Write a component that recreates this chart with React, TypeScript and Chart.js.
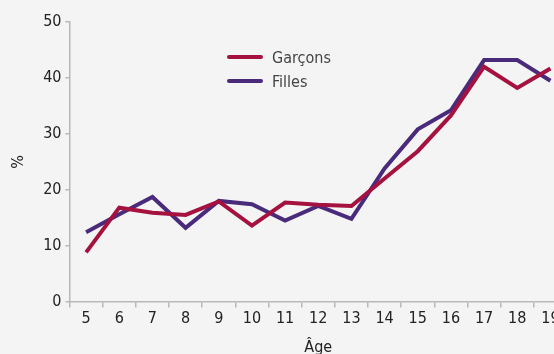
import React, { useEffect, useRef } from "react";
import { Chart, registerables } from "chart.js";

Chart.register(...registerables);

const ages = ["5", "6", "7", "8", "9", "10", "11", "12", "13", "14", "15", "16", "17", "18", "19"];
const garcons = [8.8, 16.8, 15.9, 15.5, 17.9, 13.6, 17.7, 17.3, 17.1, 22.0, 26.9, 33.3, 42.0, 38.2, 41.7];
const filles = [12.4, 15.6, 18.7, 13.2, 18.0, 17.4, 14.5, 17.1, 14.8, 23.8, 30.8, 34.2, 43.2, 43.2, 39.5];
const yTicks = [0, 10, 20, 30, 40, 50];

const RED = "#a5123f";
const PURPLE = "#4a2a7a";
const FONT = "'DejaVu Sans Condensed', 'Liberation Sans Narrow', sans-serif";

export default function App() {
  const ref = useRef<HTMLCanvasElement>(null);
  useEffect(() => {
    if (!ref.current) return;
    const chart = new Chart(ref.current, {
      type: "line",
      data: {
        labels: ages,
        datasets: [
          { label: "Garçons", data: garcons, borderColor: RED, backgroundColor: RED, borderWidth: 4, pointRadius: 0, tension: 0 },
          { label: "Filles", data: filles, borderColor: PURPLE, backgroundColor: PURPLE, borderWidth: 4, pointRadius: 0, tension: 0 },
        ],
      },
      options: {
        animation: false,
        responsive: false,
        maintainAspectRatio: false,
        layout: { padding: { top: 22, right: 15, bottom: -3, left: 9 } },
        plugins: { legend: { display: false }, tooltip: { enabled: false } },
        scales: {
          x: {
            offset: true,
            grid: { offset: true, drawOnChartArea: false, drawTicks: true, tickLength: 6, color: "#b8b8b8", lineWidth: 1.5 },
            border: { color: "#b8b8b8", width: 1.5 },
            ticks: { color: "#222", font: { family: FONT, size: 16 }, padding: 2, autoSkip: false, maxRotation: 0 },
            title: { display: true, text: "Âge", color: "#222", font: { family: FONT, size: 16 }, padding: { top: 7, bottom: 0 } },
          },
          y: {
            min: 0,
            max: 50,
            afterBuildTicks: (axis: any) => {
              axis.ticks = yTicks.map((v) => ({ value: v }));
            },
            grid: { drawOnChartArea: false, drawTicks: true, tickLength: 4, color: "#b8b8b8", lineWidth: 1.5 },
            border: { color: "#b8b8b8", width: 1.5 },
            ticks: { color: "#222", font: { family: FONT, size: 16 }, padding: 4 },
            title: { display: true, text: "%", color: "#222", font: { family: FONT, size: 16 }, padding: { top: 0, bottom: 11 } },
          },
        },
      },
    });
    return () => chart.destroy();
  }, []);

  const legendItem = (color: string, text: string, top: number) => (
    <div style={{ position: "absolute", left: 227, top: top - 10, height: 20, display: "flex", alignItems: "center" }}>
      <div style={{ width: 36, height: 4, background: color, borderRadius: 2 }} />
      <span style={{ marginLeft: 9, fontFamily: FONT, fontSize: 16, color: "#444" }}>{text}</span>
    </div>
  );

  return (
    <div style={{ position: "fixed", left: 0, top: 0, width: 554, height: 354, overflow: "hidden", background: "#f4f4f4" }}>
      <canvas ref={ref} width={582} height={354} style={{ display: "block", width: 582, height: 354 }} />
      {legendItem(RED, "Garçons", 57)}
      {legendItem(PURPLE, "Filles", 81)}
    </div>
  );
}
